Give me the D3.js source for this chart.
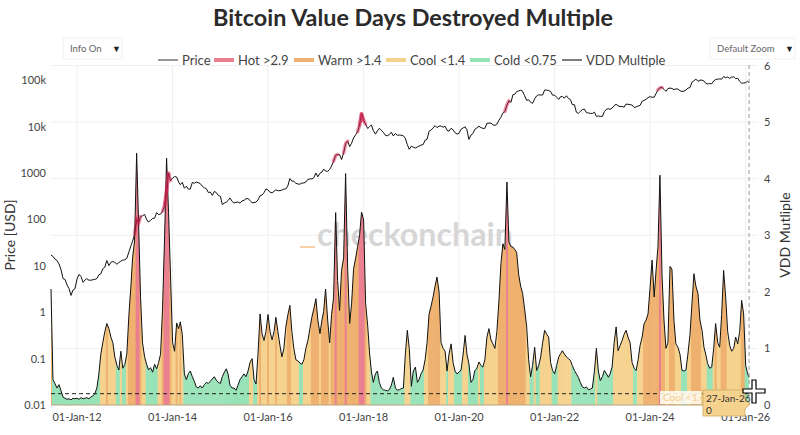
<!DOCTYPE html>
<html>
<head>
<meta charset="utf-8">
<script src="https://cdn.jsdelivr.net/npm/d3@7"></script>
<style>
  body { margin: 0; background: #fff; }
  text { font-family: Lato, "Open Sans", sans-serif; }
</style>
</head>
<body>
<div id="chart"></div>
<script>
// VDD multiple, twice a month (16th and 1st), Jun-2011 .. 27-Jan-2026
const vddMultiple = [
  2.05, 0.45, 0.38, 0.3, 0.36, 0.25, 0.14, 0.12, 0.1, 0.11, 0.09, 0.12, 0.11,                       // 2011
  0.12, 0.1, 0.13, 0.11, 0.12, 0.13, 0.11, 0.14, 0.16, 0.2, 0.3, 0.55, 0.9, 1.1, 1.3, 1.44, 1.35, 1.2, 1.1, 0.85, 0.7, 0.62, 0.95, 0.65, // 2012
  0.72, 0.9, 1.6, 2.1, 2.6, 2.9, 4.45, 3.2, 1.9, 1.1, 0.85, 0.72, 0.62, 0.66, 0.58, 0.72, 0.64, 0.75, 0.9, 1.7, 3.0, 4.36, 3.4, 2.3, // 2013
  1.1, 0.95, 1.45, 1.35, 1.47, 1.25, 0.55, 0.45, 0.55, 0.6, 0.5, 0.42, 0.32, 0.3, 0.34, 0.3, 0.36, 0.4, 0.38, 0.42, 0.46, 0.5, 0.44, 0.4, // 2014
  0.38, 0.5, 0.58, 0.64, 0.55, 0.35, 0.3, 0.3, 0.26, 0.35, 0.45, 0.5, 0.55, 0.5, 0.6, 0.75, 0.82, 0.45, 0.37, 0.9, 1.61, 1.26, 1.14, 1.3, // 2015
  1.6, 1.3, 1.15, 1.3, 1.55, 1.3, 1.05, 0.85, 1.0, 1.38, 1.6, 1.76, 1.3, 1.0, 0.8, 0.78, 0.74, 0.72, 0.8, 1.0, 1.14, 1.35, 1.55, 1.7, // 2016
  1.88, 1.5, 1.26, 1.5, 1.65, 2.05, 1.5, 1.1, 1.6, 1.9, 3.4, 2.2, 1.67, 2.38, 2.6, 4.09, 2.4, 1.44, 1.8, 2.4, 2.6, 2.8, 3.0, 3.41, // 2017
  3.27, 1.8, 1.4, 0.9, 0.6, 0.4, 0.55, 0.6, 0.4, 0.3, 0.27, 0.26, 0.25, 0.27, 0.35, 0.49, 0.3, 0.26, 0.27, 0.29, 0.3, 0.9, 1.32, 1.0, // 2018
  0.33, 0.6, 0.67, 0.4, 0.45, 0.55, 0.62, 0.8, 1.1, 1.6, 1.75, 1.91, 2.1, 2.26, 2.0, 1.1, 1.0, 0.95, 0.6, 0.9, 1.08, 0.75, 0.6, 0.55, // 2019
  0.58, 0.62, 0.9, 1.23, 0.9, 0.73, 0.4, 0.45, 0.61, 0.65, 0.76, 0.7, 0.67, 0.8, 1.2, 1.35, 1.15, 1.08, 1.0, 1.3, 1.85, 2.5, 2.85, 2.75, // 2020
  3.94, 2.88, 2.8, 2.79, 2.75, 2.7, 2.3, 2.1, 1.97, 1.7, 1.38, 0.8, 0.5, 0.7, 1.02, 0.61, 0.7, 0.85, 1.1, 1.32, 1.25, 1.2, 0.75, 0.61, // 2021
  0.55, 0.7, 0.85, 0.91, 0.96, 0.9, 0.85, 0.82, 0.79, 0.7, 0.61, 0.55, 0.49, 0.4, 0.32, 0.3, 0.32, 0.27, 0.28, 0.3, 0.6, 1.0, 0.6, 0.43, // 2022
  0.5, 0.61, 0.55, 0.49, 0.55, 0.67, 1.1, 1.38, 0.96, 1.05, 1.14, 1.25, 1.32, 1.2, 1.1, 0.75, 0.65, 0.61, 0.8, 1.05, 1.2, 1.44, 1.5, 1.61, // 2023
  2.09, 2.56, 1.91, 2.4, 2.8, 4.06, 2.3, 1.5, 1.0, 1.1, 2.45, 2.4, 1.5, 1.08, 1.02, 0.9, 0.61, 0.6, 0.62, 0.9, 1.25, 1.79, 2.32, 2.1, // 2024
  1.97, 1.5, 1.32, 1.02, 0.9, 0.73, 0.65, 0.67, 1.0, 1.44, 1.1, 1.02, 1.6, 2.38, 1.9, 1.3, 1.05, 0.95, 1.0, 1.2, 1.08, 1.3, 1.85, 1.61, // 2025
  0.7, 0.55, 0.49                                                                                   // 2026
];

// BTC price (USD) on the same dates
const priceUsd = [
  17, 16, 14, 13, 11, 8.2, 5.3, 5.1, 3.9, 3.2, 2.3, 3.0, 3.2,
  5.2, 6.5, 5.9, 4.4, 4.9, 5.3, 4.9, 4.9, 5.0, 5.1, 5.3, 6.4, 6.7, 8.6, 9.4, 13, 10.1, 11.9, 12.4, 11.8, 10.8, 11.8, 12.6, 13.3,
  13.5, 14.5, 20, 27, 34, 47, 100, 85, 115, 120, 128, 100, 88, 95, 105, 106, 140, 127, 130, 150, 200, 420, 1000, 690,
  770, 840, 820, 640, 560, 630, 470, 520, 450, 450, 630, 600, 640, 620, 590, 520, 480, 460, 380, 390, 330, 400, 380, 330,
  315, 210, 225, 235, 255, 290, 245, 225, 235, 237, 225, 250, 258, 280, 280, 258, 228, 230, 237, 262, 325, 335, 378, 455,
  430, 385, 375, 405, 435, 415, 418, 430, 450, 455, 535, 760, 670, 665, 600, 580, 575, 610, 610, 640, 730, 745, 750, 790,
  1000, 830, 990, 1050, 1220, 1100, 1090, 1190, 1420, 1800, 2400, 2500, 2500, 1950, 2730, 4300, 4900, 3700, 4400, 5700, 6700, 7800, 10800, 19000,
  13500, 11300, 9100, 10000, 10900, 8200, 6900, 8100, 9200, 8400, 7500, 6500, 6350, 6700, 7600, 6300, 7100, 6500, 6600, 6500, 6350, 5600, 4100, 3250,
  3800, 3600, 3450, 3650, 3800, 4000, 4100, 5100, 5300, 7900, 8500, 9300, 10500, 9500, 10300, 10300, 9700, 10200, 8300, 8000, 9200, 8500, 7400, 6900,
  7200, 8800, 9400, 9900, 8600, 5300, 6600, 7100, 8800, 9400, 10200, 9500, 9200, 9150, 11800, 11900, 11900, 10900, 10600, 11300, 13800, 16000, 19700, 21300,
  29300, 36000, 33500, 49000, 49500, 56800, 58800, 61000, 57800, 46500, 36700, 38000, 33500, 31800, 39800, 46000, 48800, 47800, 48100, 61500, 61300, 60000, 57000, 47600,
  47700, 43100, 38700, 44500, 44400, 41100, 46300, 40500, 38500, 29800, 29800, 20400, 19300, 21200, 23300, 23900, 20100, 19700, 19300, 19200, 20500, 16700, 17000, 16600,
  16600, 21100, 23700, 24300, 23600, 25000, 28500, 30300, 28100, 27000, 27200, 26300, 30600, 30300, 29700, 29200, 25800, 26600, 27900, 28500, 35400, 36600, 38700, 42300,
  44200, 43000, 43000, 52100, 62400, 68400, 69700, 63800, 57800, 66200, 67800, 66500, 62800, 65000, 64600, 59400, 57300, 58200, 61600, 67600, 69500, 90600, 97200, 106000,
  94400, 100500, 100600, 96100, 86000, 83000, 85000, 84000, 96500, 103500, 105700, 106800, 105700, 119800, 113300, 117500, 109200, 116800, 118600, 108200, 110000, 94000, 86500, 87000,
  88700, 95500, 88000
];

const xTickDates = ["2012-01-01", "2014-01-01", "2016-01-01", "2018-01-01", "2020-01-01", "2022-01-01", "2024-01-01", "2026-01-01"];
const priceTicks = [0.01, 0.1, 1, 10, 100, 1000, 10000, 100000];
const priceTickLabels = ["0.01", "0.1", "1", "10", "100", "1000", "10k", "100k"];
const vddTicks = [0, 1, 2, 3, 4, 5, 6];
const baselineLevel = 0.2;

const regimes = [
  { name: "Hot >2.9", color: "#ea7f90", test: v => v > 2.9 },
  { name: "Warm >1.4", color: "#efb16f", test: v => v > 1.4 },
  { name: "Cool <1.4", color: "#f6d28f", test: v => v >= 0.75 },
  { name: "Cold <0.75", color: "#98e2b8", test: v => true }
];
const regimeOf = v => regimes.find(r => r.test(v));

const lastDate = new Date(2026, 0, 27);
const n = Math.min(vddMultiple.length, priceUsd.length);
const data = d3.range(n).map(i => {
  let date;
  if (i === n - 1) date = lastDate;
  else {
    const m = d3.timeMonth.offset(new Date(2011, 5, 1), Math.floor((i + 1) / 2));
    date = i % 2 ? m : d3.timeDay.offset(m, 15);
  }
  return { date: date, vdd: vddMultiple[i], price: priceUsd[i] };
});

const width = 800, height = 435;
const plot = { left: 51, right: 758, top: 65, bottom: 405 };

const svg = d3.select("#chart").append("svg")
  .attr("width", width)
  .attr("height", height);

const x = d3.scaleTime()
  .domain([new Date(2011, 5, 16), new Date(2026, 3, 5)])
  .range([plot.left, plot.right]);
const yPrice = d3.scaleLog()
  .domain([0.01, 213000])
  .range([plot.bottom, plot.top]);
const yVdd = d3.scaleLinear()
  .domain([0, 6])
  .range([plot.bottom, plot.top + 0.5]);

// grid
const grid = svg.append("g");
grid.selectAll(".vg").data(xTickDates).enter().append("line")
  .attr("x1", d => x(new Date(d))).attr("x2", d => x(new Date(d)))
  .attr("y1", plot.top).attr("y2", plot.bottom)
  .attr("stroke", "#efefef");
grid.selectAll(".hg").data(vddTicks.slice(1)).enter().append("line")
  .attr("x1", plot.left).attr("x2", plot.right)
  .attr("y1", d => yVdd(d)).attr("y2", d => yVdd(d))
  .attr("stroke", "#efefef");

// watermark
svg.append("text")
  .attr("x", 415).attr("y", 246)
  .attr("text-anchor", "middle")
  .attr("font-size", 33).attr("font-weight", "bold")
  .attr("fill", "#d6d6d6")
  .attr("textLength", 196).attr("lengthAdjust", "spacingAndGlyphs")
  .text("checkonchain");
svg.append("line")
  .attr("x1", 300).attr("x2", 315).attr("y1", 247).attr("y2", 247)
  .attr("stroke", "#f7cfa8").attr("stroke-width", 2);

// VDD area, coloured by regime
const area = d3.area()
  .x(d => x(d.date))
  .y0(yVdd(0))
  .y1(d => yVdd(d.vdd));
svg.append("clipPath").attr("id", "vddClip")
  .append("path").attr("d", area(data));

const bandX0 = i => i === 0 ? x(data[0].date) : (x(data[i - 1].date) + x(data[i].date)) / 2;
const bandX1 = i => i === n - 1 ? x(data[i].date) : (x(data[i].date) + x(data[i + 1].date)) / 2;

const bands = svg.append("g").attr("clip-path", "url(#vddClip)");
bands.selectAll("rect").data(data).enter().append("rect")
  .attr("x", (d, i) => bandX0(i))
  .attr("width", (d, i) => bandX1(i) - bandX0(i) + 0.4)
  .attr("y", plot.top).attr("height", plot.bottom - plot.top)
  .attr("fill", d => regimeOf(d.vdd).color);

svg.append("line")
  .attr("x1", x(data[0].date)).attr("x2", x(lastDate))
  .attr("y1", yVdd(0)).attr("y2", yVdd(0))
  .attr("stroke", "#b8a47c").attr("stroke-width", 1);

svg.append("line")
  .attr("x1", x(data[0].date)).attr("x2", x(lastDate))
  .attr("y1", yVdd(baselineLevel)).attr("y2", yVdd(baselineLevel))
  .attr("stroke", "#222").attr("stroke-width", 1)
  .attr("stroke-dasharray", "4,3");

svg.append("path")
  .datum(data)
  .attr("d", d3.line().x(d => x(d.date)).y(d => yVdd(d.vdd)))
  .attr("fill", "none").attr("stroke", "#111").attr("stroke-width", 1);

// price line + hot highlights
const priceLine = d3.line().x(d => x(d.date)).y(d => yPrice(d.price));
svg.append("path")
  .datum(data)
  .attr("d", priceLine)
  .attr("fill", "none").attr("stroke", "#111").attr("stroke-width", 1);

const hotIdx = d3.range(n).filter(i => data[i].vdd > 2.9);
svg.selectAll(".hot").data(hotIdx).enter().append("path")
  .attr("d", i => priceLine(data.slice(Math.max(0, i - 1), Math.min(n, i + 2))))
  .attr("fill", "none").attr("stroke", "#d6214f")
  .attr("stroke-width", 3.5).attr("stroke-linecap", "round")
  .attr("opacity", 0.5);

// axes labels
const lbl = svg.append("g").attr("font-size", 11).attr("fill", "#444");
lbl.selectAll(".pt").data(priceTicks).enter().append("text")
  .attr("x", 46).attr("y", d => yPrice(d) + 4)
  .attr("text-anchor", "end")
  .text((d, i) => priceTickLabels[i]);
lbl.selectAll(".vt").data(vddTicks).enter().append("text")
  .attr("x", 764).attr("y", d => yVdd(d) + 4)
  .text(d => d);
const fmt = d3.timeFormat("%d-%b-%y");
lbl.selectAll(".xt").data(xTickDates).enter().append("text")
  .attr("x", d => x(new Date(d))).attr("y", 421)
  .attr("text-anchor", "middle")
  .text(d => fmt(new Date(d)));

svg.append("text")
  .attr("transform", "translate(15,235) rotate(-90)")
  .attr("text-anchor", "middle").attr("font-size", 14).attr("fill", "#333")
  .text("Price [USD]");
svg.append("text")
  .attr("transform", "translate(790,235) rotate(-90)")
  .attr("text-anchor", "middle").attr("font-size", 14).attr("fill", "#333")
  .text("VDD Mutliple");

// spike line at last date
svg.append("line")
  .attr("x1", x(lastDate)).attr("x2", x(lastDate))
  .attr("y1", plot.top).attr("y2", plot.bottom)
  .attr("stroke", "#999").attr("stroke-dasharray", "4,3");

// title
svg.append("text")
  .attr("x", 413).attr("y", 26)
  .attr("text-anchor", "middle")
  .attr("font-size", 22).attr("font-weight", "bold").attr("fill", "#2b2b2b")
  .attr("textLength", 400).attr("lengthAdjust", "spacingAndGlyphs")
  .text("Bitcoin Value Days Destroyed Multiple");

// legend
const legendItems = [
  { name: "Price", color: "#777", kind: "line", x: 158 },
  { name: regimes[0].name, color: regimes[0].color, kind: "fill", x: 214 },
  { name: regimes[1].name, color: regimes[1].color, kind: "fill", x: 294 },
  { name: regimes[2].name, color: regimes[2].color, kind: "fill", x: 386 },
  { name: regimes[3].name, color: regimes[3].color, kind: "fill", x: 470 },
  { name: "VDD Multiple", color: "#555", kind: "line", x: 562 }
];
const lg = svg.append("g").selectAll("g").data(legendItems).enter().append("g");
lg.append("line")
  .attr("x1", d => d.x).attr("x2", d => d.x + 20)
  .attr("y1", 60).attr("y2", 60)
  .attr("stroke", d => d.color)
  .attr("stroke-width", d => d.kind === "line" ? 1.5 : 4);
lg.append("text")
  .attr("x", d => d.x + 24).attr("y", 65)
  .attr("font-size", 13).attr("fill", "#444")
  .text(d => d.name);

// dropdown menus
const menus = [
  { label: "Info On", x: 63, w: 59 },
  { label: "Default Zoom", x: 710, w: 85 }
];
const mg = svg.append("g").selectAll("g").data(menus).enter().append("g");
mg.append("rect")
  .attr("x", d => d.x).attr("y", 38).attr("width", d => d.w).attr("height", 21)
  .attr("fill", "#fff").attr("stroke", "#f0f0f0");
mg.append("text")
  .attr("x", d => d.x + 7).attr("y", 52)
  .attr("font-size", 9.5).attr("fill", "#666")
  .text(d => d.label);
mg.append("text")
  .attr("x", d => d.x + d.w - 10).attr("y", 52)
  .attr("font-size", 9).attr("fill", "#222")
  .text("\u25BC");

// hover labels
svg.append("rect")
  .attr("x", 660).attr("y", 391).attr("width", 41).attr("height", 13)
  .attr("fill", "#fffaf0").attr("opacity", 0.9);
svg.append("text")
  .attr("x", 663).attr("y", 401).attr("font-size", 10).attr("fill", "#f2cf8c")
  .text("Cool <1.4");
svg.append("path")
  .attr("d", "M703,390 H745 V399 L750,404 L745,409 V416 H703 Z")
  .attr("fill", regimes[2].color).attr("stroke", "#c9a961").attr("stroke-width", 0.8);
svg.append("text")
  .attr("x", 706).attr("y", 402).attr("font-size", 10).attr("fill", "#333")
  .text(fmt(lastDate));
svg.append("text")
  .attr("x", 706).attr("y", 414).attr("font-size", 10).attr("fill", "#333")
  .text("0");

// mouse cursor
svg.append("path")
  .attr("d", "M752,380 h4 v9 h9 v4 h-9 v10 h-4 v-10 h-9 v-4 h9 Z")
  .attr("fill", "#fff").attr("stroke", "#000").attr("stroke-width", 1.2);
</script>
</body>
</html>
